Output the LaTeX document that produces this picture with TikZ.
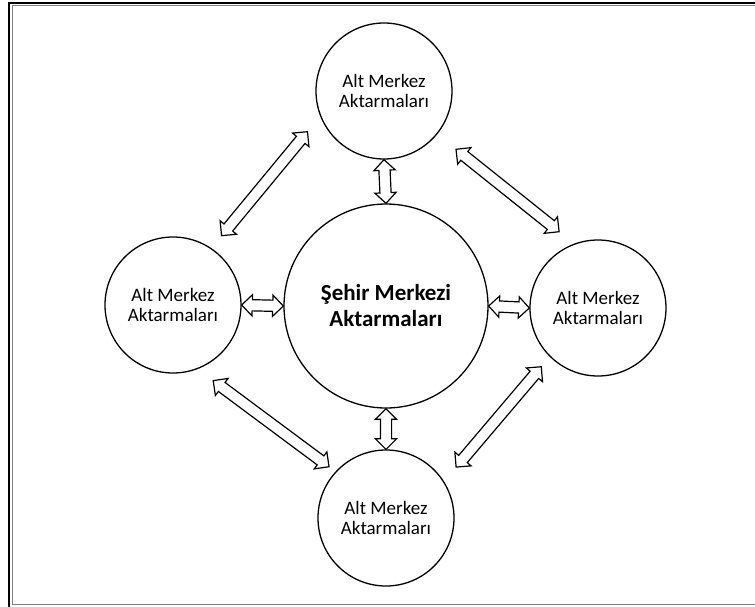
\documentclass[tikz,border=0pt]{standalone}
\usepackage{fontspec}
\setmainfont{Carlito}
\usetikzlibrary{shapes,arrows,positioning,calc}

\begin{document}
\begin{tikzpicture}[x=1pt, y=-1pt,
    hub/.style={circle, draw, line width=1.3pt, minimum size=136pt, inner sep=0pt, align=center, font=\fontsize{19}{20}\selectfont},
    dblarrow/.style={to path={let \p1=(\tikztostart), \p2=(\tikztotarget),
        \n1={atan2(\y2-\y1,\x2-\x1)}, \n2={veclen(\x2-\x1,\y2-\y1)} in
        node[double arrow, draw, line width=1.2pt, inner xsep=0pt, inner ysep=5pt,
             double arrow head extend=5pt, minimum height=\n2, rotate=\n1]
        at ($(\p1)!0.5!(\p2)$) {}}}]
    \useasboundingbox (0,0) rectangle (755,606);
    \clip (0,0) rectangle (755,606);

    % frame
    \draw [line width=2.5pt] (9,620) -- (9,3) -- (770,3);
    \draw [gray, line width=1.5pt] (770,5.5) -- (12.5,5.5) -- (12.5,604.5) -- (770,604.5);

    % hubs
    \node [hub, minimum size=204pt, font=\bfseries\fontsize{23}{26}\selectfont] (city) at (386,306) {Şehir Merkezi\\Aktarmaları};
    \node [hub] (north) at (384,91) {Alt Merkez\\Aktarmaları};
    \node [hub] (south) at (386,518) {Alt Merkez\\Aktarmaları};
    \node [hub] (west) at (173,305) {Alt Merkez\\Aktarmaları};
    \node [hub] (east) at (598,308) {Alt Merkez\\Aktarmaları};

    % short arrows
    \draw (north.south) to[dblarrow] (city.north);
    \draw (city.south) to[dblarrow] (south.north);
    \draw (west.east) to[dblarrow] (city.west);
    \draw (city.east) to[dblarrow] (east.west);

    % long arrows
    \draw ($(west.55)!-16pt!(west.center)$) to[dblarrow] ($(north.-152)!-18pt!(north.center)$);
    \draw ($(north.-39)!-24pt!(north.center)$) to[dblarrow] ($(east.117)!-17pt!(east.center)$);
    \draw ($(east.-134)!-13pt!(east.center)$) to[dblarrow] ($(south.36)!-18pt!(south.center)$);
    \draw ($(west.-62)!-17pt!(west.center)$) to[dblarrow] ($(south.138)!-8pt!(south.center)$);
\end{tikzpicture}
\end{document}
